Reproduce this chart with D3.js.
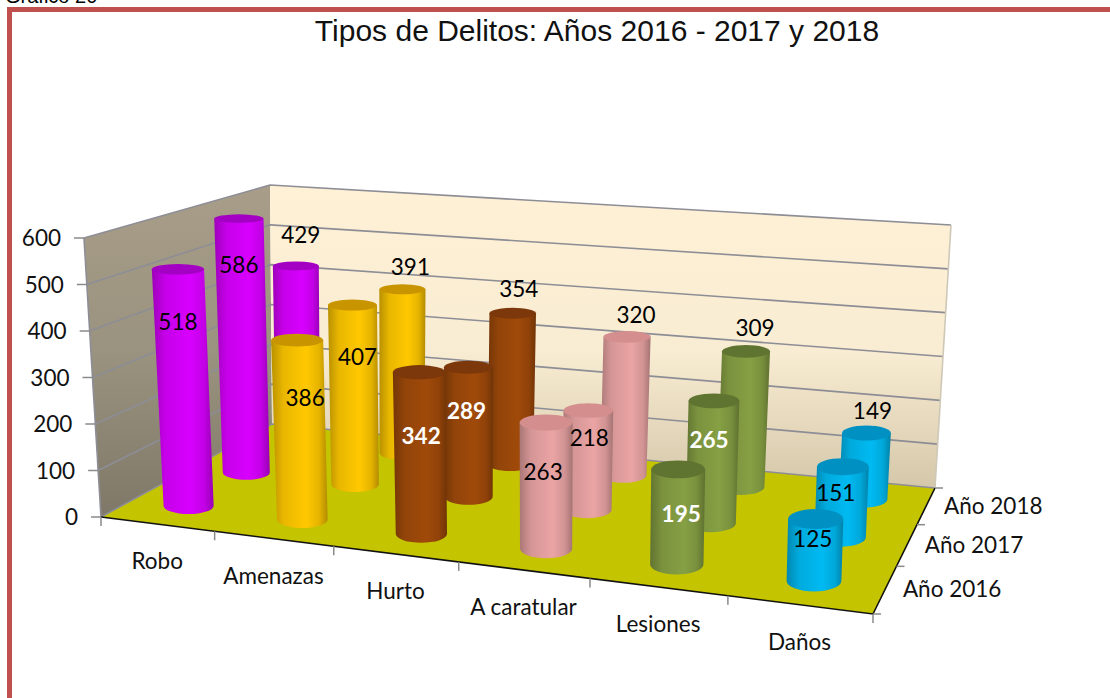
<!DOCTYPE html>
<html><head><meta charset="utf-8">
<script src="https://cdn.jsdelivr.net/npm/d3@7"></script>
<style>html,body{margin:0;padding:0;background:#fff;overflow:hidden}svg{display:block}</style>
</head><body><svg id="c" width="1110" height="698"></svg>
<script>
const categories = ["Robo","Amenazas","Hurto","A caratular","Lesiones","Daños"];
const seriesNames = ["Año 2016","Año 2017","Año 2018"];
const valores2016 = [518,386,342,263,195,125];
const valores2017 = [586,407,289,218,265,151];
const valores2018 = [429,391,354,320,309,149];
const valueTicks = [0,100,200,300,400,500,600];
const bodyColors = ["#d800ff","#ffc800","#a04a0a","#eaa4a4","#86a044","#00baf2"];
const capColors  = ["#a400c4","#c89400","#7c380a","#d48e8e","#5f7430","#0090c2"];
const whiteLabels = [[2,4],[2,4],[]];
// screen nudges of the value labels from the top of each cylinder [dx,dy]
const nudge2016 = [[0,53],[8,58],[2,64],[-3,50],[3,45],[-3,20]];
const nudge2017 = [[0,46],[5,52],[-2,44],[1,27],[-5,39],[-7,26]];
const nudge2018 = [[5,-31],[8,-22],[6,-24],[9,-22],[9,-23],[6,-22]];

const allValues = [valores2016,valores2017,valores2018];
const allNudges = [nudge2016,nudge2017,nudge2018];

// perspective box corners (floor plane and 600-level plane)
const floorQuad = [[101,517],[873,614],[935,488],[272,424]];
const topQuad   = [[84,238],[885,308],[951,225],[270,185]];
// horizontal lean of the verticals between floor and 600-level, at front/back of the box
const leanFront = d3.scaleLinear().domain([0,1]).range([-17,9]);
const leanBack  = d3.scaleLinear().domain([0,1]).range([-2,16]);

function homography(q){
  const [[x0,y0],[x1,y1],[x2,y2],[x3,y3]] = q;
  const dx1=x1-x2,dx2=x3-x2,sx=x0-x1+x2-x3,dy1=y1-y2,dy2=y3-y2,sy=y0-y1+y2-y3;
  const d=dx1*dy2-dx2*dy1, g=(sx*dy2-dx2*sy)/d, h=(dx1*sy-sx*dy1)/d;
  const a=x1-x0+g*x1,b=x3-x0+h*x3,c=x0,e=y1-y0+g*y1,f=y3-y0+h*y3,k=y0;
  return (u,v)=>{const w=g*u+h*v+1;return [(a*u+b*v+c)/w,(e*u+f*v+k)/w];};
}
const H0=homography(floorQuad),H1=homography(topQuad);
const yScale=d3.scaleLinear().domain([0,600]).range([0,1]);
const uScale=d3.scaleBand().domain(categories).range([0,1]);
const vScale=d3.scaleBand().domain(seriesNames).range([0,1]);
const warp=u=>u+0.04*u*(1-u);
const P=(u0,v,val)=>{
  const u=warp(u0),t=yScale(val),a=H0(u,v),b=H1(u,v);
  const lean=leanFront(u)*(1-v)+leanBack(u)*v;
  return [a[0]+lean*t,a[1]+(b[1]-a[1])*t];
};

const svg=d3.select("#c"),defs=svg.append("defs");
const grad=(id,x2,y2,stops)=>{const g=defs.append("linearGradient").attr("id",id).attr("x1",0).attr("y1",0).attr("x2",x2).attr("y2",y2);
  stops.forEach(s=>g.append("stop").attr("offset",s[0]).attr("stop-color",s[1]));};
grad("backW",0,1,[[0,"#fff1d6"],[0.55,"#f8ecd2"],[1,"#d5c7a9"]]);
grad("leftW",0,1,[[0,"#a89d88"],[0.5,"#9a937f"],[1,"#7f7868"]]);
bodyColors.forEach((c,i)=>{const col=d3.color(c);
  grad("cyl"+i,1,0,[[0,col.darker(0.9)],[0.22,col.darker(0.25)],[0.62,col.formatHex()],[0.85,col.darker(0.3)],[1,col.darker(1.0)]]);});

// frame & headings
svg.append("text").attr("x",5).attr("y",3).attr("font-family","Liberation Sans").attr("font-size",20).text("Gráfico 20");
svg.append("path").attr("d","M1110,9.5H9.5V698").attr("fill","none").attr("stroke","#c0504d").attr("stroke-width",5);
svg.append("text").attr("x",597).attr("y",41).attr("text-anchor","middle").attr("font-family","Liberation Sans")
  .attr("font-size",30).attr("fill","#111").text("Tipos de Delitos: Años 2016 - 2017 y 2018");

const poly=pts=>"M"+pts.map(p=>p.map(n=>n.toFixed(1)).join(",")).join("L")+"Z";
// walls and floor
svg.append("path").attr("d",poly([P(0,0,0),P(0,1,0),P(0,1,600),P(0,0,600)])).attr("fill","url(#leftW)");
svg.append("path").attr("d",poly([P(0,1,0),P(1,1,0),P(1,1,600),P(0,1,600)])).attr("fill","url(#backW)");
svg.append("path").attr("d",poly([P(0,0,0),P(1,0,0),P(1,1,0),P(0,1,0)])).attr("fill","#c4c400");
// grid
const grid=svg.append("g").attr("fill","none").attr("stroke","#8d8d96").attr("stroke-width",1.6);
grid.selectAll("path").data(valueTicks).join("path").attr("d",d=>d3.line()([P(0,0,d),P(0,1,d),P(1,1,d)]));
grid.append("path").attr("d",d3.line()([P(0,0,0),P(0,0,600)]));
grid.append("path").attr("d",d3.line()([P(1,1,0),P(1,1,600)])).attr("stroke","#cfc8b8");
// axes
svg.append("path").attr("d",d3.line()([P(0,0,0),P(1,0,0),P(1,1,0)])).attr("fill","none").attr("stroke","#111").attr("stroke-width",1.6);
const ticks=svg.append("g").attr("stroke","#8a8a8a").attr("stroke-width",1.5);
valueTicks.forEach(d=>{const p=P(0,0,d);ticks.append("line").attr("x1",p[0]-10).attr("x2",p[0]).attr("y1",p[1]).attr("y2",p[1]);});
d3.range(categories.length+1).forEach(i=>{const p=P(i/categories.length,0,0);ticks.append("line").attr("x1",p[0]).attr("x2",p[0]).attr("y1",p[1]).attr("y2",p[1]+9);});
d3.range(seriesNames.length+1).forEach(i=>{const p=P(1,i/seriesNames.length,0);ticks.append("line").attr("x1",p[0]).attr("x2",p[0]+8).attr("y1",p[1]).attr("y2",p[1]);});

const font="Lato";
const txt=svg.append("g").attr("font-family",font).attr("font-size",22.5).attr("fill","#111");
valueTicks.forEach(d=>{const p=P(0,0,d);txt.append("text").attr("x",p[0]-23).attr("y",p[1]+8).attr("text-anchor","end").text(d);});
categories.forEach(c=>{const p=P(uScale(c)+uScale.bandwidth()/2,0,0);txt.append("text").attr("x",p[0]).attr("y",p[1]+45).attr("text-anchor","middle").text(c);});
seriesNames.forEach(s=>{const p=P(1,vScale(s)+vScale.bandwidth()/2,0);txt.append("text").attr("x",p[0]+67).attr("y",p[1]+8).attr("text-anchor","middle").text(s);});

// cylinders
const ru=0.19*uScale.bandwidth(),rv=0.22*vScale.bandwidth(),uShift=0;
function ellipseAt(u,v,val){
  const a=P(u+ru,v,val),a0=P(u-ru,v,val),b=P(u,v+rv,val),b0=P(u,v-rv,val);
  const ux=(a[0]-a0[0])/2,uy=(a[1]-a0[1])/2,vx=(b[0]-b0[0])/2,vy=(b[1]-b0[1])/2;
  return {c:P(u,v,val),rx:Math.hypot(ux,vx),ry:Math.hypot(uy,vy)};
}
const marks=[];
seriesNames.forEach((s,si)=>categories.forEach((c,ci)=>marks.push({s,si,c,ci,val:allValues[si][ci]})));
marks.sort((a,b)=>b.si-a.si||a.ci-b.ci);
const cyl=svg.append("g").selectAll("g").data(marks).join("g");
cyl.each(function(d){
  const u=uScale(d.c)+uScale.bandwidth()/2+uShift,v=vScale(d.s)+vScale.bandwidth()/2;
  const T=ellipseAt(u,v,d.val),B=ellipseAt(u,v,0);d.T=T;
  const g=d3.select(this);
  g.append("path").attr("fill",`url(#cyl${d.ci})`).attr("d",
    `M${T.c[0]-T.rx},${T.c[1]}L${B.c[0]-B.rx},${B.c[1]}A${B.rx},${B.ry} 0 0 0 ${B.c[0]+B.rx},${B.c[1]}L${T.c[0]+T.rx},${T.c[1]}Z`);
  g.append("ellipse").attr("cx",T.c[0]).attr("cy",T.c[1]).attr("rx",T.rx).attr("ry",T.ry).attr("fill",capColors[d.ci]);
});
svg.append("g").attr("font-family",font).attr("font-size",22.5).attr("text-anchor","middle").selectAll("text").data(marks).join("text")
  .attr("x",d=>d.T.c[0]+allNudges[d.si][d.ci][0]).attr("y",d=>d.T.c[1]+allNudges[d.si][d.ci][1]+8)
  .attr("fill",d=>whiteLabels[d.si].includes(d.ci)?"#fff":"#000").attr("font-weight",d=>whiteLabels[d.si].includes(d.ci)?700:400).text(d=>d.val);
</script></body></html>
